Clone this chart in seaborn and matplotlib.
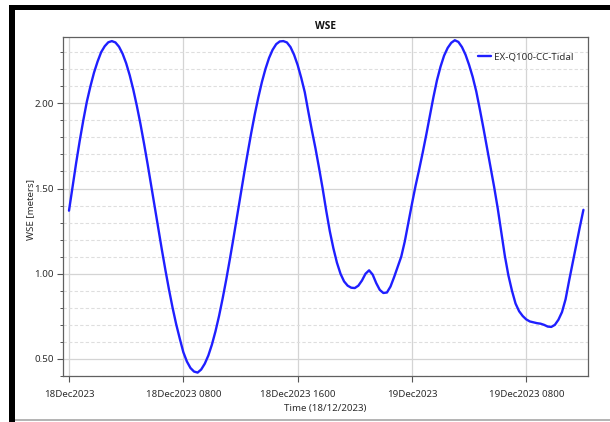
import matplotlib
matplotlib.use("Agg")
import matplotlib.pyplot as plt
import matplotlib.ticker as mticker
from matplotlib.patches import Rectangle
import seaborn as sns
import pandas as pd

# ---- data: WSE (m) every quarter hour from 18Dec2023 0000 ----
hours = [i * 0.25 for i in range(145)]  # 0 .. 36 h
wse = [
    1.37, 1.51, 1.65, 1.78,      # 0 h
    1.90, 2.01, 2.10, 2.18,      # 1
    2.245, 2.30, 2.335, 2.358,   # 2
    2.365, 2.357, 2.332, 2.291,  # 3
    2.235, 2.164, 2.080, 1.984,  # 4
    1.879, 1.764, 1.644, 1.519,  # 5
    1.392, 1.265, 1.140, 1.020,  # 6
    0.906, 0.800, 0.704, 0.620,  # 7
    0.540, 0.485, 0.447, 0.426,  # 8
    0.420, 0.438, 0.472, 0.520,  # 9
    0.584, 0.662, 0.752, 0.854,  # 10
    0.964, 1.082, 1.204, 1.331,  # 11
    1.458, 1.585, 1.707, 1.825,  # 12
    1.935, 2.035, 2.125, 2.202,  # 13
    2.266, 2.314, 2.347, 2.363,  # 14
    2.365, 2.357, 2.330, 2.285,  # 15
    2.225, 2.150, 2.065, 1.950,  # 16
    1.840, 1.735, 1.620, 1.500,  # 17
    1.370, 1.250, 1.150, 1.065,  # 18
    1.000, 0.955, 0.930, 0.918,  # 19
    0.916, 0.930, 0.960, 1.000,  # 20
    1.020, 0.995, 0.945, 0.905,  # 21
    0.887, 0.890, 0.925, 0.980,  # 22
    1.040, 1.100, 1.190, 1.300,  # 23
    1.410, 1.515, 1.610, 1.710,  # 24
    1.815, 1.925, 2.035, 2.135,  # 25
    2.215, 2.280, 2.325, 2.355,  # 26
    2.370, 2.360, 2.330, 2.285,  # 27
    2.225, 2.155, 2.070, 1.965,  # 28
    1.855, 1.740, 1.625, 1.510,  # 29
    1.385, 1.245, 1.105, 0.990,  # 30
    0.900, 0.825, 0.780, 0.752,  # 31
    0.732, 0.720, 0.715, 0.710,  # 32
    0.707, 0.700, 0.690, 0.688,  # 33
    0.700, 0.730, 0.775, 0.850,  # 34
    0.960, 1.065, 1.170, 1.275,  # 35
    1.375,                       # 36
]
series_name = "EX-Q100-CC-Tidal"
xtick_hours = [0, 8, 16, 24, 32]
xtick_labels = ["18Dec2023", "18Dec2023 0800", "18Dec2023 1600",
                "19Dec2023", "19Dec2023 0800"]
ytick_values = [0.50, 1.00, 1.50, 2.00]
title = "WSE"
xlabel = "Time (18/12/2023)"
ylabel = "WSE [meters]"

df = pd.DataFrame({"hours": hours, "wse": wse, "series": series_name})

sns.set_theme(style="white")
plt.rcParams["font.family"] = ["Noto Sans", "DejaVu Sans"]

W, H = 610, 422
fig = plt.figure(figsize=(W / 100, H / 100), dpi=100)
fig.patch.set_facecolor("white")
ax = fig.add_axes([63 / W, 1 - 376 / H, (588 - 63) / W, (376 - 37) / H])
ax.set_facecolor("white")

sns.lineplot(data=df, x="hours", y="wse", hue="series", palette=["#1f1fff"],
             linewidth=1.7, estimator=None, ax=ax, zorder=3)

ax.set_xlim(-0.42, 36.32)
ax.set_ylim(0.40, 2.389)

ax.set_xticks(xtick_hours)
ax.set_xticklabels(xtick_labels)
ax.set_yticks(ytick_values)
ax.yaxis.set_major_formatter(mticker.FormatStrFormatter("%.2f"))
ax.yaxis.set_minor_locator(mticker.MultipleLocator(0.1))

ax.grid(True, which="major", axis="both", color="#d4d4d4", linewidth=0.9, linestyle="-")
ax.grid(True, which="minor", axis="y", color="#dedede", linewidth=0.8, linestyle=(0, (3, 2)))
ax.set_axisbelow(True)

for s in ax.spines.values():
    s.set_color("#606060")
    s.set_linewidth(0.9)

ax.tick_params(axis="both", which="major", direction="out", length=4, width=0.8,
               color="#555555", labelsize=7, labelcolor="#2e2e2e", pad=2.5)
ax.tick_params(axis="y", which="minor", direction="out", length=2, width=0.7,
               color="#555555", left=True)
ax.tick_params(axis="x", which="major", pad=6, bottom=True)
ax.tick_params(axis="y", which="major", left=True)

ax.set_title(title, fontsize=7.3, fontweight="bold", color="#111111", pad=6,
             family=["Open Sans", "Noto Sans", "DejaVu Sans"])
ax.set_xlabel(xlabel, fontsize=7, color="#2e2e2e", labelpad=3.5)
ax.set_ylabel(ylabel, fontsize=7, color="#2e2e2e")
ax.yaxis.set_label_coords((35 - 63) / 525, 0.49)

leg = ax.legend(loc="center left", bbox_to_anchor=((478 - 63) / 525, 1 - (56.7 - 37) / 339),
                frameon=False, fontsize=7, handlelength=1.3, handletextpad=0.35,
                borderpad=0, borderaxespad=0)
for t in leg.get_texts():
    t.set_color("#2e2e2e")

# window frame of the screenshot
def px_rect(x0, y0, x1, y1, color):
    fig.add_artist(Rectangle((x0 / W, 1 - y1 / H), (x1 - x0) / W, (y1 - y0) / H,
                             transform=fig.transFigure, facecolor=color,
                             edgecolor="none", zorder=10))

px_rect(9, 5, 15, 422, "black")
px_rect(9, 5, 610, 10, "black")
px_rect(15, 419, 610, 421, "#b5b5b5")

fig.savefig("out.png", dpi=100, facecolor="white")
